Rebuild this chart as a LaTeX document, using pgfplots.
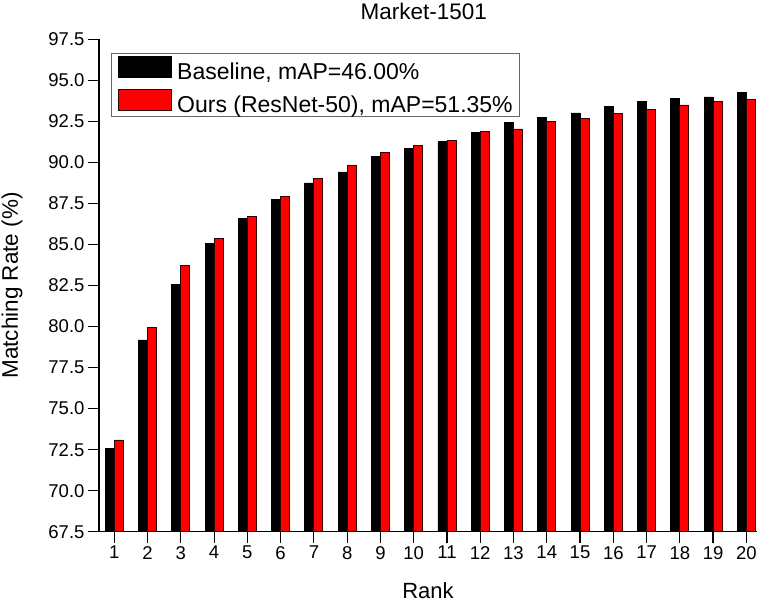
\documentclass[border=0pt]{standalone}
\usepackage{fontspec}
\setmainfont{Liberation Sans}
\usepackage{pgfplots}
\pgfplotsset{compat=1.18}
\begin{document}
\begin{tikzpicture}
\path[use as bounding box] (-99pt,-74.3pt) rectangle (658pt,531.7pt);
\begin{axis}[
  at={(0,0)}, anchor=south west,
  scale only axis,
  width=658pt, height=492.4pt,
  xmin=0.54, xmax=20.32,
  ymin=67.5, ymax=97.5,
  axis x line*=bottom, axis y line*=left,
  axis line style={line width=1.2pt, black},
  xtick={1,...,20},
  ytick={67.5,70,72.5,75,77.5,80,82.5,85,87.5,90,92.5,95,97.5},
  tick align=outside,
  major tick length=11pt,
  tick style={line width=1.2pt, black},
  /pgf/number format/assume math mode=true,
  yticklabel style={/pgf/number format/.cd, fixed, fixed zerofill, precision=1},
  tick label style={font=\fontsize{18.5}{20}\selectfont},
  title={\fontsize{22.5}{26}\selectfont Market-1501},
  title style={at={(rel axis cs:0.4935,1)}, anchor=base, yshift=14.3pt},
  xlabel={Rank},
  xlabel style={at={(rel axis cs:0.5,0)}, anchor=base, yshift=-67pt, font=\fontsize{22}{26}\selectfont},
  ylabel={Matching Rate (\%)},
  ylabel style={at={(rel axis cs:0,0.5)}, anchor=base, yshift=81pt, font=\fontsize{22.5}{26}\selectfont},
  legend image code/.code={\draw[#1] (0pt,-5.5pt) rectangle (53pt,15.5pt);},
  legend cell align=left,
  legend style={at={(rel axis cs:0.0182,0.9716)}, anchor=north west,
    draw=black!60, line width=0.8pt,
    inner xsep=7pt, inner ysep=2.5pt,
    nodes={inner sep=0pt},
    row sep=7.6pt,
    /tikz/every odd column/.append style={column sep=5pt},
    font=\fontsize{23}{26}\selectfont},
]
\addplot[ybar, bar width=9pt, bar shift=-4.5pt, fill=black, draw=black, line width=0.8pt] coordinates {
(1,72.58) (2,79.18) (3,82.59) (4,85.07) (5,86.57) (6,87.76) (7,88.75) (8,89.42) (9,90.35) (10,90.85)
(11,91.25) (12,91.80) (13,92.41) (14,92.75) (15,93.01) (16,93.42) (17,93.73) (18,93.91) (19,93.99) (20,94.25)};
\addlegendentry{Baseline, mAP=46.00\%}
\addplot[ybar, bar width=9pt, bar shift=4.5pt, fill=red, draw=black!80!red, line width=0.8pt] coordinates {
(1,73.09) (2,79.93) (3,83.71) (4,85.38) (5,86.68) (6,87.94) (7,89.01) (8,89.80) (9,90.60) (10,91.02)
(11,91.35) (12,91.86) (13,92.04) (14,92.48) (15,92.69) (16,92.97) (17,93.24) (18,93.50) (19,93.70) (20,93.85)};
\addlegendentry{Ours (ResNet-50), mAP=51.35\%}
\end{axis}
\end{tikzpicture}
\end{document}
